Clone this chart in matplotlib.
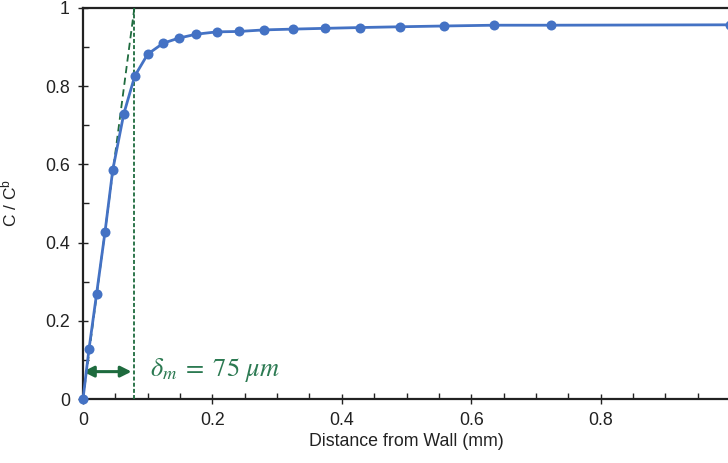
"""Concentration profile near the wall with the mass-transfer boundary layer."""
import matplotlib
matplotlib.use("Agg")
import matplotlib.pyplot as plt
from matplotlib.ticker import MultipleLocator

plt.rcParams["font.family"] = ["Liberation Sans", "DejaVu Sans"]
plt.rcParams["mathtext.fontset"] = "custom"
plt.rcParams["mathtext.rm"] = "Liberation Sans"
plt.rcParams["mathtext.it"] = "Liberation Sans:italic"

# distance from wall (mm) and normalised concentration C / C^b
distance_mm = [0.0, 0.0093, 0.021, 0.034, 0.046, 0.063, 0.080, 0.100, 0.124,
               0.148, 0.175, 0.207, 0.241, 0.280, 0.324, 0.374, 0.428, 0.490,
               0.558, 0.636, 0.723, 1.0]
conc_ratio = [0.0, 0.128, 0.269, 0.427, 0.586, 0.729, 0.826, 0.882, 0.910,
              0.923, 0.933, 0.939, 0.940, 0.944, 0.946, 0.948, 0.950, 0.952,
              0.954, 0.956, 0.956, 0.957]

wall_slope = 12.6      # slope of the near-wall tangent, 1/mm
delta_m = 0.075        # boundary layer thickness, mm

BLUE = "#4472C4"
DGREEN = "#1E6B3E"
TGREEN = "#2C7A52"

fig = plt.figure(figsize=(7.28, 4.63), dpi=100)
ax = fig.add_axes([83 / 728, 64 / 463, 647 / 728, 391 / 463])

ax.plot(distance_mm, conc_ratio, color=BLUE, lw=2.0, marker="o",
        markersize=7.2, markeredgewidth=0, clip_on=False, zorder=4)

# tangent at the wall and where it reaches C = C^b
x_top = 1.0 / wall_slope
ax.plot([0, x_top], [0, 1.0], color=DGREEN, lw=1.3, ls=(0, (4, 2.5)), zorder=3)
ax.axvline(x_top, color=DGREEN, lw=1.3, ls=(0, (2.2, 1.2)), zorder=3)

ax.annotate("", xy=(0, 0.07), xytext=(delta_m, 0.07),
            arrowprops=dict(arrowstyle="<|-|>", color=DGREEN, lw=2.2,
                            mutation_scale=16, shrinkA=0, shrinkB=0))
ax.text(0.104, 0.074,
        r"$\delta_m\;=\;\mathrm{%d}\ \mu m$" % round(delta_m * 1000),
        color=TGREEN, fontsize=19, va="center", ha="left",
        math_fontfamily="stix")

ax.set_xlim(0, 1.0)
ax.set_ylim(0, 1.0)
ax.xaxis.set_minor_locator(MultipleLocator(0.05))
ax.yaxis.set_minor_locator(MultipleLocator(0.1))
ax.set_xticks([0, 0.2, 0.4, 0.6, 0.8])
ax.set_xticklabels(["0", "0.2", "0.4", "0.6", "0.8"])
ax.set_yticks([0, 0.2, 0.4, 0.6, 0.8, 1.0])
ax.set_yticklabels(["0", "0.2", "0.4", "0.6", "0.8", "1"])

ax.tick_params(which="major", direction="inout", length=7, width=1.0,
               labelsize=12.8, pad=6, colors="#222222")
ax.tick_params(which="minor", direction="in", length=4, width=1.0,
               colors="#222222")

for side in ("top", "bottom", "left"):
    ax.spines[side].set_linewidth(1.6)
    ax.spines[side].set_color("#222222")
ax.spines["right"].set_visible(False)

ax.set_xlabel("Distance from Wall (mm)", fontsize=12.8, labelpad=3,
              color="#222222")
ax.set_ylabel(r"C / C$^{\mathrm{b}}$", fontsize=12.5, color="#222222")
ax.yaxis.set_label_coords(-0.098, 0.5)

fig.savefig("out.png", dpi=100)
